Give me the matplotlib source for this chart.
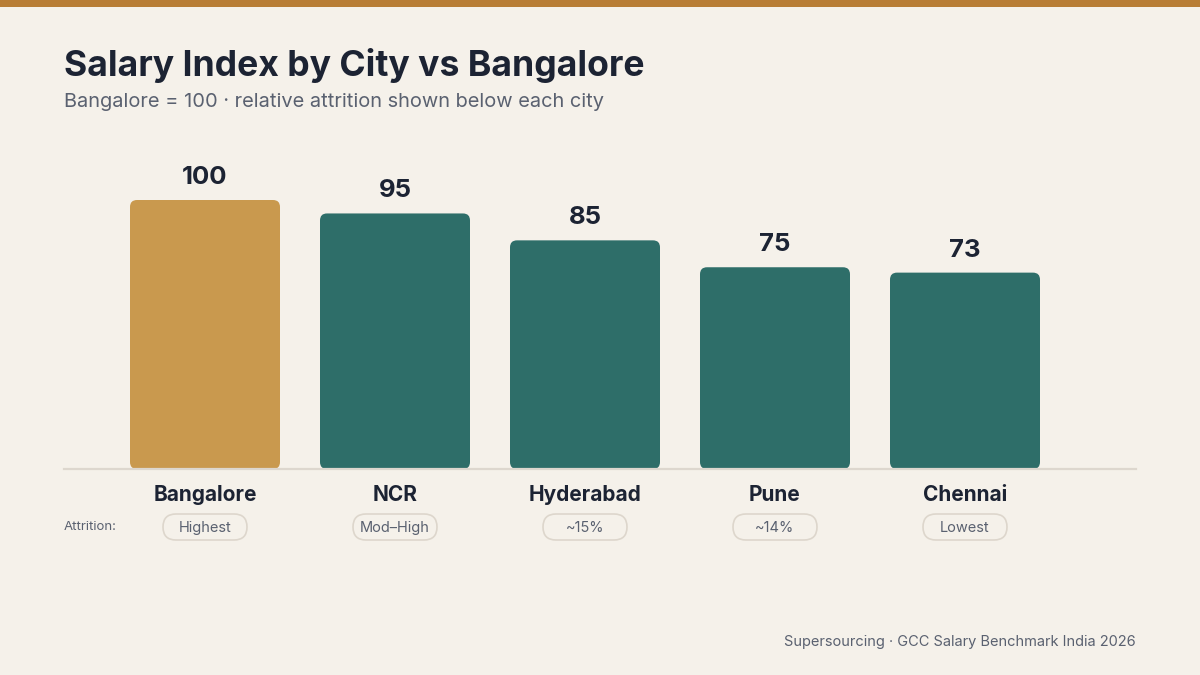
"""Salary index by city vs Bangalore, with attrition pills"""
import matplotlib
matplotlib.use('Agg')
import matplotlib.pyplot as plt
from matplotlib.patches import FancyBboxPatch, Rectangle

cities = ['Bangalore', 'NCR', 'Hyderabad', 'Pune', 'Chennai']
salary_index = [100, 95, 85, 75, 73]
attrition = ['Highest', 'Mod\u2013High', '~15%', '~14%', 'Lowest']

BG = '#F5F1EA'
GOLD = '#C9994E'
TEAL = '#2E6E69'
DARK = '#1C2333'
GREY = '#5A6170'

plt.rcParams['font.family'] = ['Inter', 'DejaVu Sans']

fig = plt.figure(figsize=(12, 6.75), dpi=100, facecolor=BG)

# overlay in pixel units for the decorations
over = fig.add_axes([0, 0, 1, 1], zorder=0)
over.set_xlim(0, 1200)
over.set_ylim(0, 675)
over.axis('off')
over.add_patch(Rectangle((0, 668), 1200, 7, color='#B87D35', lw=0))

# main chart: baseline at y=469px, bar centres 190px apart
ax = fig.add_axes([64 / 1200, 1 - 469 / 675, (1136 - 64) / 1200, 329 / 675], zorder=1)
ax.set_facecolor('none')
ax.set_xlim(-141 / 190, 931 / 190)
ax.set_ylim(0, 329 / 269 * 100)

bars = ax.bar(range(len(cities)), salary_index, width=150 / 190)
aspect = (329 / 269 * 100 / 329) / (1 / 190)
for i, b in enumerate(bars):
    b.set_visible(False)
    r = 7 / 190
    patch = FancyBboxPatch((b.get_x(), b.get_y()), b.get_width(), b.get_height(),
                           boxstyle=f'round,pad=0,rounding_size={r}',
                           mutation_aspect=aspect, lw=0,
                           fc=GOLD if i == 0 else TEAL)
    ax.add_patch(patch)
    ax.annotate(str(salary_index[i]), (i, salary_index[i]), xytext=(0, 11.5),
                textcoords='offset points', ha='center', va='baseline',
                fontsize=18.5, fontweight='bold', color=DARK)

for s in ['top', 'right', 'left']:
    ax.spines[s].set_visible(False)
ax.spines['bottom'].set_color('#DDD7CE')
ax.spines['bottom'].set_linewidth(1.6)
ax.set_yticks([])
ax.set_xticks(range(len(cities)))
ax.set_xticklabels(cities, fontsize=15, fontweight='bold', color=DARK)
ax.tick_params(axis='x', length=0, pad=11.5)

# attrition pills
over.text(64, 675 - 527, 'Attrition:', fontsize=9.5, color=GREY, va='center', ha='left')
for i, label in enumerate(attrition):
    cx = ax.transData.transform((i, 0))[0]
    cy = 675 - 527
    pill = FancyBboxPatch((cx - 42, cy - 13), 84, 26,
                          boxstyle='round,pad=0,rounding_size=13',
                          fc=BG, ec='#DDD6CC', lw=1.2)
    over.add_patch(pill)
    over.text(cx, cy - 1, label, fontsize=10.5, color=GREY, ha='center', va='center')

fig.text(64 / 1200, 1 - 76 / 675, 'Salary Index by City vs Bangalore',
         fontsize=25.6, fontweight='bold', color=DARK, ha='left', va='baseline')
fig.text(64 / 1200, 1 - 107 / 675, 'Bangalore = 100 \u00b7 relative attrition shown below each city',
         fontsize=14.4, color=GREY, ha='left', va='baseline')
fig.text(1136 / 1200, 1 - 646 / 675, 'Supersourcing \u00b7 GCC Salary Benchmark India 2026',
         fontsize=10.5, color=GREY, ha='right', va='baseline')

fig.savefig('out.png', dpi=100, facecolor=BG)
